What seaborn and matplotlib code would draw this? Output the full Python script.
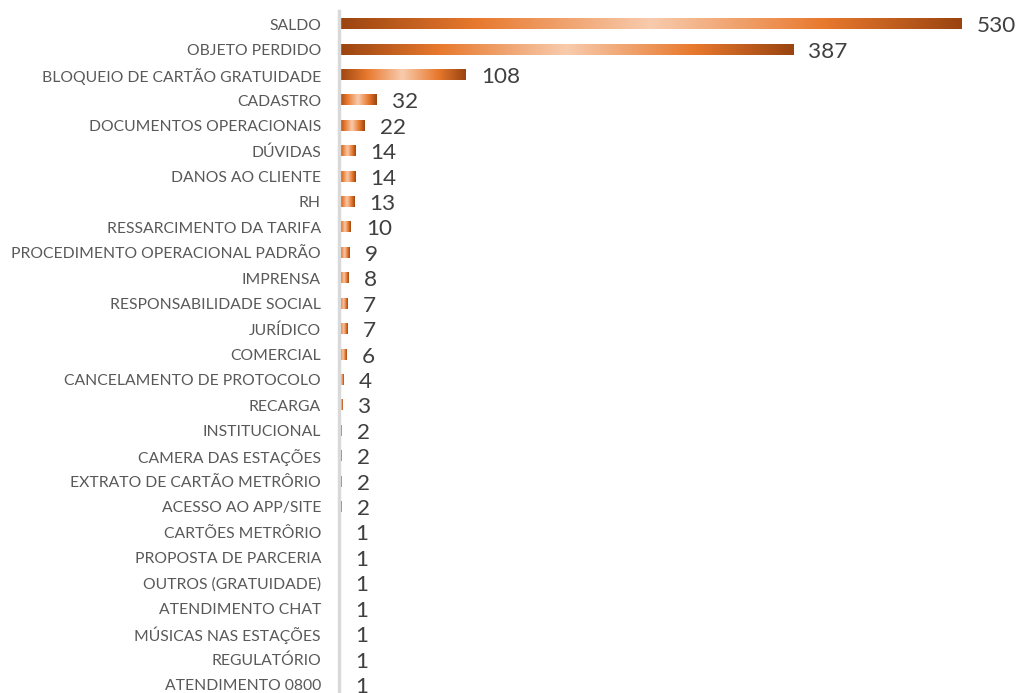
import numpy as np
import pandas as pd
import matplotlib
matplotlib.use("Agg")
import matplotlib.pyplot as plt
from matplotlib.colors import LinearSegmentedColormap
import seaborn as sns

categorias = [
    "SALDO", "OBJETO PERDIDO", "BLOQUEIO DE CARTÃO GRATUIDADE", "CADASTRO",
    "DOCUMENTOS OPERACIONAIS", "DÚVIDAS", "DANOS AO CLIENTE", "RH",
    "RESSARCIMENTO DA TARIFA", "PROCEDIMENTO OPERACIONAL PADRÃO", "IMPRENSA",
    "RESPONSABILIDADE SOCIAL", "JURÍDICO", "COMERCIAL",
    "CANCELAMENTO DE PROTOCOLO", "RECARGA", "INSTITUCIONAL",
    "CAMERA DAS ESTAÇÕES", "EXTRATO DE CARTÃO METRÔRIO", "ACESSO AO APP/SITE",
    "CARTÕES METRÔRIO", "PROPOSTA DE PARCERIA", "OUTROS (GRATUIDADE)",
    "ATENDIMENTO CHAT", "MÚSICAS NAS ESTAÇÕES", "REGULATÓRIO",
    "ATENDIMENTO 0800",
]
quantidades = [530, 387, 108, 32, 22, 14, 14, 13, 10, 9, 8, 7, 7, 6, 4, 3,
               2, 2, 2, 2, 1, 1, 1, 1, 1, 1, 1]

df = pd.DataFrame({"categoria": categorias, "quantidade": quantidades})

sns.set_theme(style="white")
plt.rcParams["font.family"] = ["Lato", "DejaVu Sans"]

W, H = 1016, 693
fig = plt.figure(figsize=(W / 100, H / 100), dpi=100)
ax_left, ax_right, ax_top = 339, 1000, 11.3
ax = fig.add_axes([ax_left / W, 0, (ax_right - ax_left) / W, (H - ax_top) / H])

sns.barplot(data=df, y="categoria", x="quantidade", orient="h", ax=ax,
            width=0.4, color="#ED7D31", linewidth=0)

# horizontal dark-orange-light-orange-dark gradient on each bar
grad = LinearSegmentedColormap.from_list(
    "barra", [(0.0, "#9A4410"), (0.22, "#E8792E"), (0.5, "#F8CBAD"),
              (0.78, "#E8792E"), (1.0, "#9A4410")])
ramp = np.linspace(0, 1, 256).reshape(1, -1)
for p in ax.patches:
    x0, y0 = p.get_x(), p.get_y()
    w, h = p.get_width(), p.get_height()
    p.set_facecolor("none")
    ax.imshow(ramp, cmap=grad, aspect="auto", interpolation="bicubic",
              extent=(x0, x0 + w, y0 + h, y0), zorder=2)

ax.set_xlim(0, 563.2)
ax.set_ylim(26.32, -0.5)

# value labels
for i, v in enumerate(quantidades):
    ax.annotate(str(v), xy=(v, i), xytext=(11, -1.5), textcoords="offset points",
                ha="left", va="center", fontsize=16.2, color="#404040")

ax.set_xlabel("")
ax.set_ylabel("")
ax.set_xticks([])
ax.tick_params(axis="y", length=0, pad=13, labelsize=11.3, labelcolor="#595959")
for s in ["top", "right", "bottom"]:
    ax.spines[s].set_visible(False)
ax.spines["left"].set_color("#D9D9D9")
ax.spines["left"].set_linewidth(2.5)
ax.spines["left"].set_zorder(3)

fig.savefig("out.png", dpi=100, facecolor="white")
